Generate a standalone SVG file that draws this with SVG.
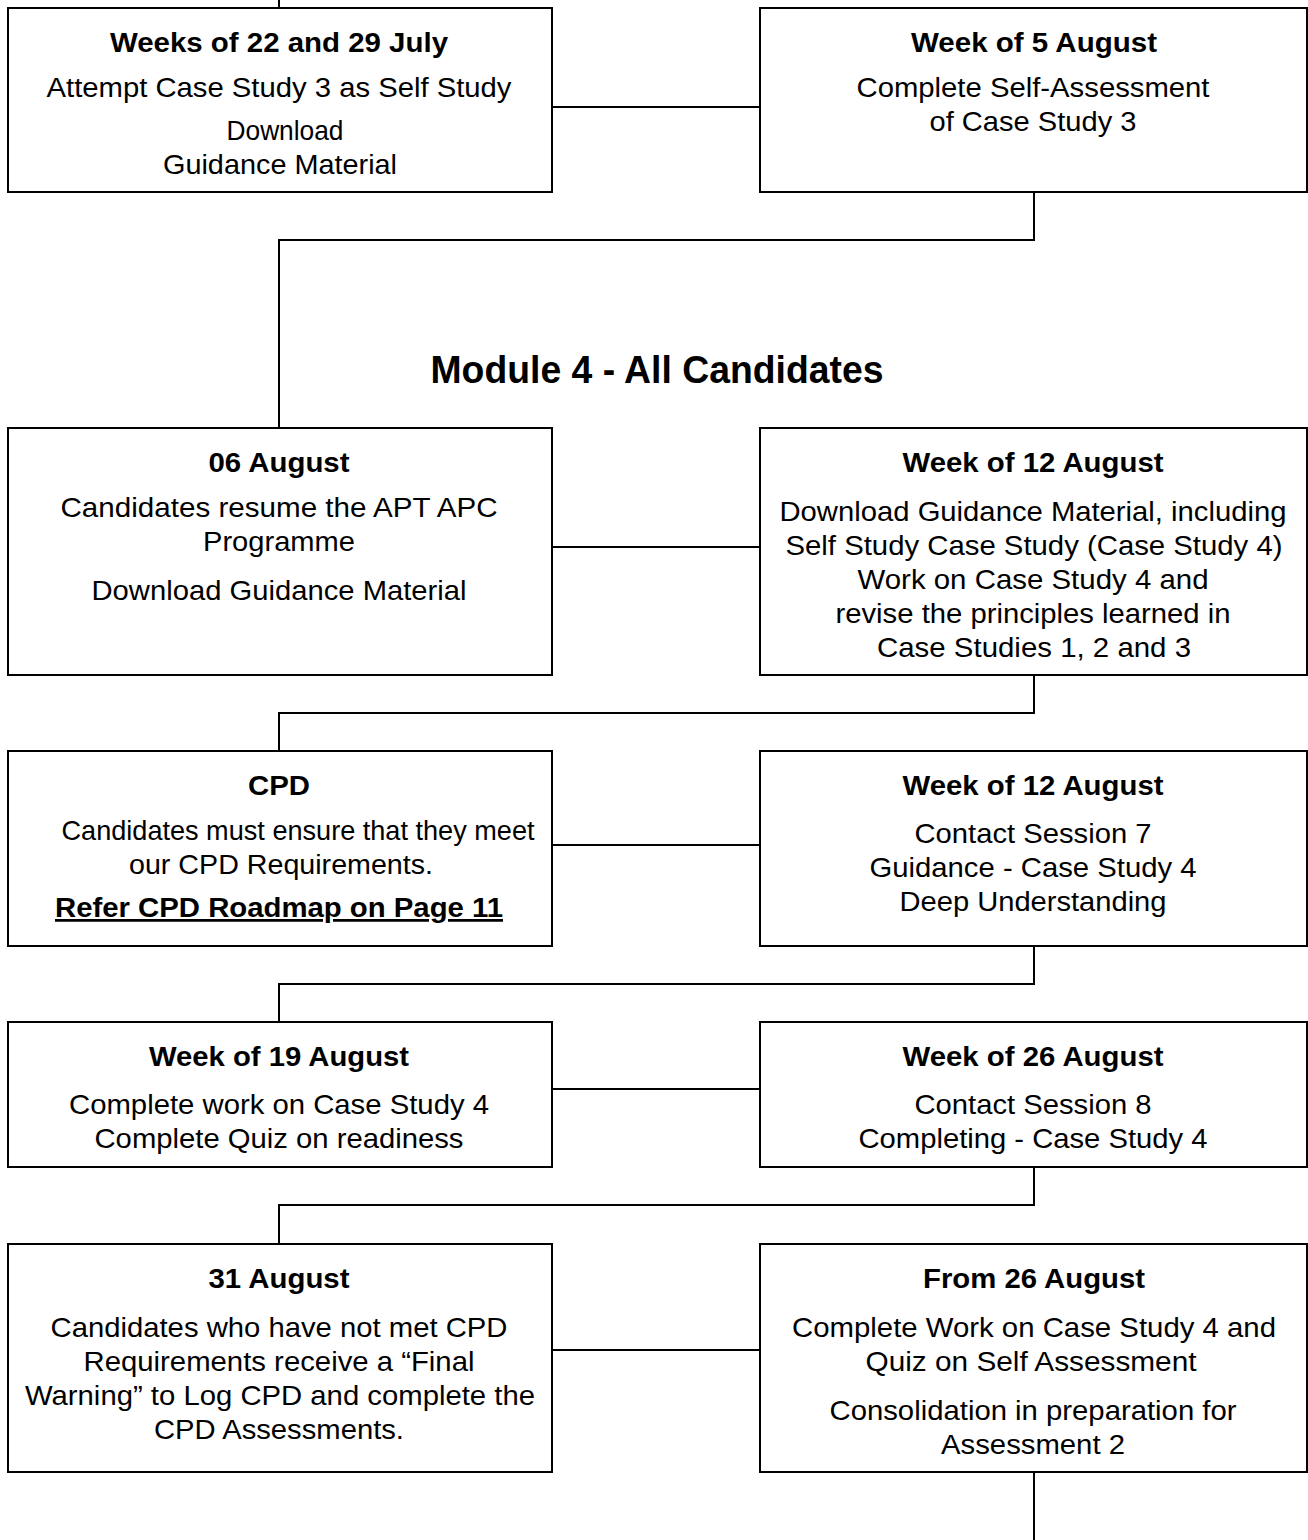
<svg xmlns="http://www.w3.org/2000/svg" width="1308" height="1540" viewBox="0 0 1308 1540">
<style>
.box{fill:#fff;stroke:#000;stroke-width:2}
.ln{fill:none;stroke:#000;stroke-width:2}
text{font-family:"Liberation Sans",Arial,sans-serif;fill:#000;text-anchor:middle}
.h{font-size:27.5px;font-weight:bold}
.b{font-size:27.5px}
.t{font-size:39px;font-weight:bold}
</style>
<rect width="1308" height="1540" fill="#fff"/>
<g id="connectors">
<path class="ln" d="M279,0V8"/>
<path class="ln" d="M552,107H760"/>
<path class="ln" d="M1034,192V240H279V428"/>
<path class="ln" d="M552,547H760"/>
<path class="ln" d="M1034,675V713H279V751"/>
<path class="ln" d="M552,845H760"/>
<path class="ln" d="M1034,946V984H279V1022"/>
<path class="ln" d="M552,1089H760"/>
<path class="ln" d="M1034,1167V1205H279V1244"/>
<path class="ln" d="M552,1350H760"/>
<path class="ln" d="M1034,1472V1540"/>
</g>
<g id="n1">
<rect class="box" x="8" y="8" width="544" height="184"/>
<text class="h" x="279" y="52" textLength="338" lengthAdjust="spacingAndGlyphs">Weeks of 22 and 29 July</text>
<text class="b" x="279" y="97" textLength="465" lengthAdjust="spacingAndGlyphs">Attempt Case Study 3 as Self Study</text>
<text class="b" x="285" y="140" textLength="117" lengthAdjust="spacingAndGlyphs">Download</text>
<text class="b" x="280" y="174" textLength="234" lengthAdjust="spacingAndGlyphs">Guidance Material</text>
</g>
<g id="n2">
<rect class="box" x="760" y="8" width="547" height="184"/>
<text class="h" x="1034" y="52" textLength="246" lengthAdjust="spacingAndGlyphs">Week of 5 August</text>
<text class="b" x="1033" y="97" textLength="353" lengthAdjust="spacingAndGlyphs">Complete Self-Assessment</text>
<text class="b" x="1033" y="131" textLength="207" lengthAdjust="spacingAndGlyphs">of Case Study 3</text>
</g>
<g id="title">
<text class="t" x="657" y="383" textLength="453" lengthAdjust="spacingAndGlyphs">Module 4 - All Candidates</text>
</g>
<g id="n3">
<rect class="box" x="8" y="428" width="544" height="247"/>
<text class="h" x="279" y="472" textLength="141" lengthAdjust="spacingAndGlyphs">06 August</text>
<text class="b" x="279" y="517" textLength="437" lengthAdjust="spacingAndGlyphs">Candidates resume the APT APC</text>
<text class="b" x="279" y="551" textLength="152" lengthAdjust="spacingAndGlyphs">Programme</text>
<text class="b" x="279" y="600" textLength="375" lengthAdjust="spacingAndGlyphs">Download Guidance Material</text>
</g>
<g id="n4">
<rect class="box" x="760" y="428" width="547" height="247"/>
<text class="h" x="1033" y="472" textLength="261" lengthAdjust="spacingAndGlyphs">Week of 12 August</text>
<text class="b" x="1033" y="521" textLength="507" lengthAdjust="spacingAndGlyphs">Download Guidance Material, including</text>
<text class="b" x="1034" y="555" textLength="497" lengthAdjust="spacingAndGlyphs">Self Study Case Study (Case Study 4)</text>
<text class="b" x="1033" y="589" textLength="351" lengthAdjust="spacingAndGlyphs">Work on Case Study 4 and</text>
<text class="b" x="1033" y="623" textLength="395" lengthAdjust="spacingAndGlyphs">revise the principles learned in</text>
<text class="b" x="1034" y="657" textLength="314" lengthAdjust="spacingAndGlyphs">Case Studies 1, 2 and 3</text>
</g>
<g id="n5">
<rect class="box" x="8" y="751" width="544" height="195"/>
<text class="h" x="279" y="795" textLength="62" lengthAdjust="spacingAndGlyphs">CPD</text>
<text class="b" x="298" y="840" textLength="473" lengthAdjust="spacingAndGlyphs">Candidates must ensure that they meet</text>
<text class="b" x="281" y="874" textLength="304" lengthAdjust="spacingAndGlyphs">our CPD Requirements.</text>
<text class="h" x="279" y="917" textLength="448" lengthAdjust="spacingAndGlyphs" text-decoration="underline">Refer CPD Roadmap on Page 11</text>
</g>
<g id="n6">
<rect class="box" x="760" y="751" width="547" height="195"/>
<text class="h" x="1033" y="795" textLength="261" lengthAdjust="spacingAndGlyphs">Week of 12 August</text>
<text class="b" x="1033" y="843" textLength="237" lengthAdjust="spacingAndGlyphs">Contact Session 7</text>
<text class="b" x="1033" y="877" textLength="327" lengthAdjust="spacingAndGlyphs">Guidance - Case Study 4</text>
<text class="b" x="1033" y="911" textLength="267" lengthAdjust="spacingAndGlyphs">Deep Understanding</text>
</g>
<g id="n7">
<rect class="box" x="8" y="1022" width="544" height="145"/>
<text class="h" x="279" y="1066" textLength="260" lengthAdjust="spacingAndGlyphs">Week of 19 August</text>
<text class="b" x="279" y="1114" textLength="420" lengthAdjust="spacingAndGlyphs">Complete work on Case Study 4</text>
<text class="b" x="279" y="1148" textLength="369" lengthAdjust="spacingAndGlyphs">Complete Quiz on readiness</text>
</g>
<g id="n8">
<rect class="box" x="760" y="1022" width="547" height="145"/>
<text class="h" x="1033" y="1066" textLength="261" lengthAdjust="spacingAndGlyphs">Week of 26 August</text>
<text class="b" x="1033" y="1114" textLength="237" lengthAdjust="spacingAndGlyphs">Contact Session 8</text>
<text class="b" x="1033" y="1148" textLength="349" lengthAdjust="spacingAndGlyphs">Completing - Case Study 4</text>
</g>
<g id="n9">
<rect class="box" x="8" y="1244" width="544" height="228"/>
<text class="h" x="279" y="1288" textLength="141" lengthAdjust="spacingAndGlyphs">31 August</text>
<text class="b" x="279" y="1337" textLength="457" lengthAdjust="spacingAndGlyphs">Candidates who have not met CPD</text>
<text class="b" x="279" y="1371" textLength="391" lengthAdjust="spacingAndGlyphs">Requirements receive a “Final</text>
<text class="b" x="280" y="1405" textLength="510" lengthAdjust="spacingAndGlyphs">Warning” to Log CPD and complete the</text>
<text class="b" x="279" y="1439" textLength="250" lengthAdjust="spacingAndGlyphs">CPD Assessments.</text>
</g>
<g id="n10">
<rect class="box" x="760" y="1244" width="547" height="228"/>
<text class="h" x="1034" y="1288" textLength="222" lengthAdjust="spacingAndGlyphs">From 26 August</text>
<text class="b" x="1034" y="1337" textLength="484" lengthAdjust="spacingAndGlyphs">Complete Work on Case Study 4 and</text>
<text class="b" x="1031" y="1371" textLength="331" lengthAdjust="spacingAndGlyphs">Quiz on Self Assessment</text>
<text class="b" x="1033" y="1420" textLength="407" lengthAdjust="spacingAndGlyphs">Consolidation in preparation for</text>
<text class="b" x="1033" y="1454" textLength="184" lengthAdjust="spacingAndGlyphs">Assessment 2</text>
</g>
</svg>
